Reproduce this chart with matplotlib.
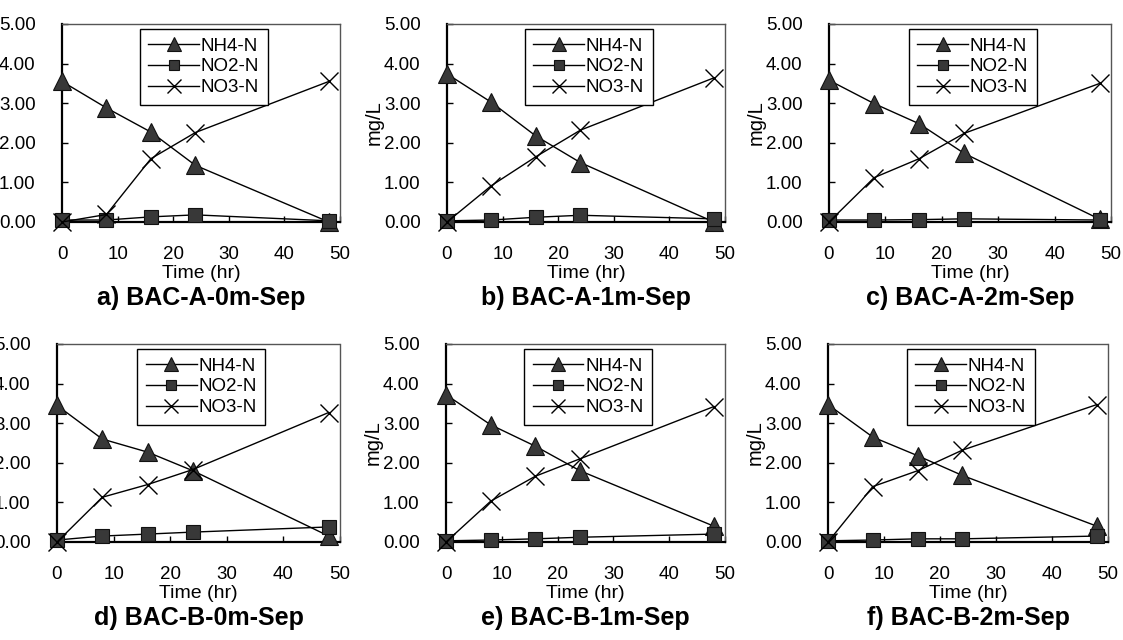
import matplotlib.pyplot as plt
from matplotlib.ticker import MultipleLocator, FormatStrFormatter

plt.rcParams['font.family'] = ['Liberation Sans', 'DejaVu Sans']

# ------------------------------------------------------------------
# Data (mg/L at each sampling time)
# ------------------------------------------------------------------
time_hr = [0, 8, 16, 24, 48]

panel_titles = ['a) BAC-A-0m-Sep', 'b) BAC-A-1m-Sep', 'c) BAC-A-2m-Sep',
                'd) BAC-B-0m-Sep', 'e) BAC-B-1m-Sep', 'f) BAC-B-2m-Sep']

nh4_n = [[3.55, 2.88, 2.27, 1.43, 0.00],
         [3.74, 3.02, 2.17, 1.50, 0.00],
         [3.58, 2.99, 2.48, 1.73, 0.07],
         [3.45, 2.60, 2.27, 1.80, 0.15],
         [3.72, 2.96, 2.42, 1.80, 0.40],
         [3.47, 2.65, 2.18, 1.68, 0.40]]

no2_n = [[0.05, 0.05, 0.13, 0.18, 0.03],
         [0.03, 0.05, 0.12, 0.17, 0.08],
         [0.05, 0.05, 0.06, 0.08, 0.05],
         [0.05, 0.15, 0.20, 0.25, 0.38],
         [0.03, 0.05, 0.08, 0.12, 0.20],
         [0.03, 0.05, 0.08, 0.08, 0.15]]

no3_n = [[0.00, 0.19, 1.60, 2.26, 3.55],
         [0.00, 0.92, 1.65, 2.32, 3.64],
         [0.00, 1.12, 1.60, 2.24, 3.50],
         [0.00, 1.13, 1.45, 1.83, 3.27],
         [0.00, 1.03, 1.66, 2.10, 3.42],
         [0.00, 1.40, 1.80, 2.32, 3.47]]

series_labels = ['NH4-N', 'NO2-N', 'NO3-N']

# axes boxes in pixels (left, top, right, bottom) on the 1123x640 canvas
W, H = 1123, 640
boxes_px = [(62, 24, 340, 222), (447, 24, 725, 222), (829, 24, 1111, 222),
            (57, 344, 340, 542), (446, 344, 725, 542), (828, 344, 1108, 542)]

fig = plt.figure(figsize=(W / 100, H / 100), dpi=100)

mark_face = '#383838'

for i, (l, t, r, b) in enumerate(boxes_px):
    ax = fig.add_axes([l / W, 1 - b / H, (r - l) / W, (b - t) / H])

    ax.plot(time_hr, nh4_n[i], color='black', lw=1.0, marker='^', ms=13,
            mfc=mark_face, mec='#111111', mew=0.8, label=series_labels[0],
            zorder=3, clip_on=False)
    ax.plot(time_hr, no2_n[i], color='black', lw=1.0, marker='s', ms=9.5,
            mfc=mark_face, mec='#111111', mew=0.8, label=series_labels[1],
            zorder=3, clip_on=False)
    ax.plot(time_hr, no3_n[i], color='black', lw=1.0, marker='x', ms=13,
            mec='black', mew=1.0, label=series_labels[2],
            zorder=3, clip_on=False)

    ax.set_xlim(0, 50)
    ax.set_ylim(0, 5)
    ax.xaxis.set_major_locator(MultipleLocator(10))
    ax.yaxis.set_major_locator(MultipleLocator(1))
    ax.yaxis.set_major_formatter(FormatStrFormatter('%.2f'))
    ax.tick_params(axis='both', direction='in', length=4, width=1,
                   labelsize=13.5, colors='black')
    ax.tick_params(axis='x', pad=17)
    ax.tick_params(axis='y', pad=19)

    for side in ['left', 'bottom']:
        ax.spines[side].set_linewidth(1.6)
        ax.spines[side].set_color('black')
    for side in ['top', 'right']:
        ax.spines[side].set_linewidth(1.0)
        ax.spines[side].set_color('#555555')
        ax.spines[side].set_linestyle((0, (1, 1)))

    ax.set_xlabel('Time (hr)', fontsize=14, labelpad=2)
    ax.set_ylabel('mg/L', fontsize=14.5, labelpad=0)
    ax.text(0.5, -0.385, panel_titles[i], transform=ax.transAxes,
            ha='center', va='center', fontsize=18, fontweight='bold')

    leg = ax.legend(loc='upper center', bbox_to_anchor=(0.51, 0.975),
                    fontsize=13.5, frameon=True, fancybox=False,
                    edgecolor='black', framealpha=1, borderpad=0.45,
                    labelspacing=0.2, handlelength=2.7, handletextpad=0.1,
                    markerscale=0.75, borderaxespad=0)
    leg.get_frame().set_linewidth(1.0)

plt.savefig('out.png', dpi=100)
